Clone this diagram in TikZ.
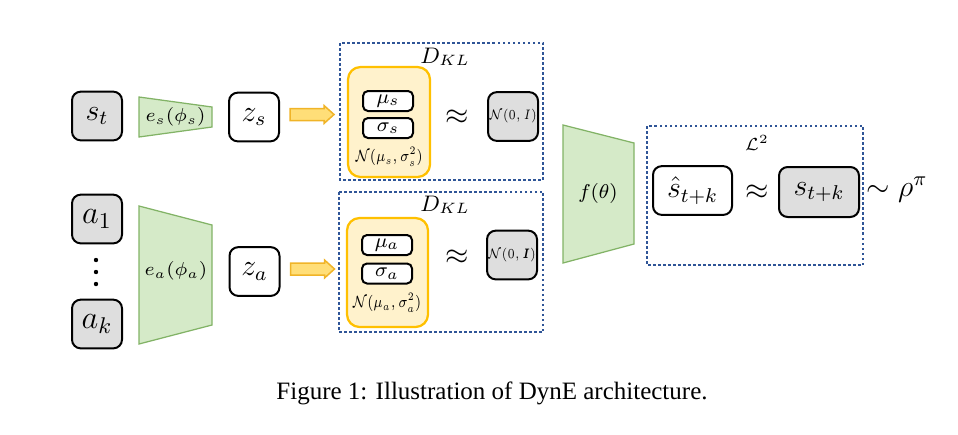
\RequirePackage{fix-cm}
\documentclass[tikz,border=0pt]{standalone}
\usepackage{amsmath}
\usepackage{amssymb}
\usepackage{bm}
\usepackage{graphicx}
\usepackage[no-math]{fontspec}
\newfontfamily\capfont{Liberation Serif}
\usepackage{xcolor}
\usepackage{tikz}
\usetikzlibrary{positioning,calc}

\definecolor{boxgray}{RGB}{222,222,222}
\definecolor{encfill}{RGB}{213,234,200}
\definecolor{encdraw}{RGB}{130,179,102}
\definecolor{distfill}{RGB}{255,242,204}
\definecolor{distdraw}{RGB}{255,192,0}
\definecolor{arrfill}{RGB}{255,222,120}
\definecolor{arrdraw}{RGB}{240,180,40}
\definecolor{lossblue}{RGB}{47,85,151}

\newcommand{\fs}[1]{\fontsize{#1}{#1}\selectfont}
\newcommand{\narrow}[1]{\scalebox{0.78}[1]{#1}}

\tikzset{
	var/.style={draw,line width=0.8pt,rounded corners=3.5pt,inner sep=0pt,minimum width=20pt,minimum height=19.5pt},
	obs/.style={var,fill=boxgray},
	lat/.style={var,fill=white},
	param/.style={draw,line width=0.8pt,rounded corners=2pt,inner sep=0pt,minimum width=20pt,minimum height=8pt,fill=white},
	dist/.style={draw=distdraw,fill=distfill,line width=0.9pt,rounded corners=5pt},
	enc/.style={draw=encdraw,fill=encfill,line width=0.5pt},
	klbox/.style={draw=lossblue,densely dotted,line width=1pt},
	blockarrow/.style={draw=arrdraw,fill=arrfill,line width=0.6pt,line join=miter}
}

\begin{document}
\begin{tikzpicture}[x=0.4pt,y=-0.4pt]
	\useasboundingbox (0,0) rectangle (958,434);
	
	% inputs
	\node[obs] (st) at (97,116) {\fs{12}$s_t$};
	\node[obs] (a1) at (97,219) {\fs{13}$a_1$};
	\node[obs] (ak) at (97,324) {\fs{13}$a_k$};
	\foreach \y in {260,272,284}
		\fill (96,\y) circle (2.2);
	
	% encoders
	\draw[enc] (139,97) -- (212,107) -- (212,127) -- (139,137) -- cycle;
	\node (es) at (175.5,117) {\fs{7.5}$e_s(\phi_s)$};
	\draw[enc] (139,206) -- (212,225) -- (212,325) -- (139,344) -- cycle;
	\node (ea) at (176,271) {\fs{7.5}$e_a(\phi_a)$};
	
	\node[lat] (zs) at (254,117) {\fs{12}$z_s$};
	\node[lat] (za) at (254.5,271.5) {\fs{12}$z_a$};
	\foreach \z in {zs,za}
		\draw[blockarrow,shift={($(\z.east)+(10,-2.5)$)}] (0,-6) -- (34,-6) -- (34,-9) -- (44,0) -- (34,9) -- (34,6) -- (0,6) -- cycle;
	
	% state KL
	\draw[klbox] (340,43) rectangle (543,180);
	\node (dkls) at (445,57) {\fs{9}$D_{KL}$};
	\draw[dist] (348,67) rectangle (430,177);
	\node[param] (mus) at (388,101) {\fs{8}$\mu_s$};
	\node[param] (sigs) at (388,128) {\fs{8}$\sigma_s$};
	\node[inner sep=1pt] (ns) at (389,157) {\narrow{\fs{6.5}$\mathcal{N}(\mu_s,\sigma_s^2)$}};
	\node (apps) at (457,117) {\fs{12}$\approx$};
	\node[obs] (priors) at (513,116.5) {\narrow{\fs{5.5}$\mathcal{N}(0,I)$}};
	
	% action KL
	\draw[klbox] (339,192) rectangle (543,332);
	\node (dkla) at (445,205) {\fs{9}$D_{KL}$};
	\draw[dist] (347,218) rectangle (428,327);
	\node[param] (mua) at (387,245) {\fs{8}$\mu_a$};
	\node[param] (siga) at (387,273.5) {\fs{8}$\sigma_a$};
	\node[inner sep=1pt] (na) at (387,303) {\narrow{\fs{6.5}$\mathcal{N}(\mu_a,\sigma_a^2)$}};
	\node (appa) at (457,257) {\fs{12}$\approx$};
	\node[obs] (priora) at (512,255) {\narrow{\fs{5.5}$\mathcal{N}(0,\bm{I})$}};
	
	% dynamics
	\draw[enc] (563,125) -- (634,143) -- (634,244) -- (563,263) -- cycle;
	\node (ftheta) at (598,193) {\fs{8}$f(\theta)$};
	
	\draw[klbox] (647,126) rectangle (863,265);
	\node (l2) at (757,143) {\fs{7}$\mathcal{L}^2$};
	\node[lat,minimum width=31.6pt] (shat) at (692.5,190.5) {\fs{12}$\hat{s}_{t+k}$};
	\node (appl) at (757,192) {\fs{12}$\approx$};
	\node[obs,minimum width=32pt,minimum height=20pt] (stk) at (819,192) {\fs{12}$s_{t+k}$};
	\node (rho) at (897,190) {\fs{12}$\sim\rho^{\pi}$};
	
	\node (cap) at (492,393) {\capfont\fs{10}Figure 1: Illustration of DynE architecture.};
\end{tikzpicture}
\end{document}
